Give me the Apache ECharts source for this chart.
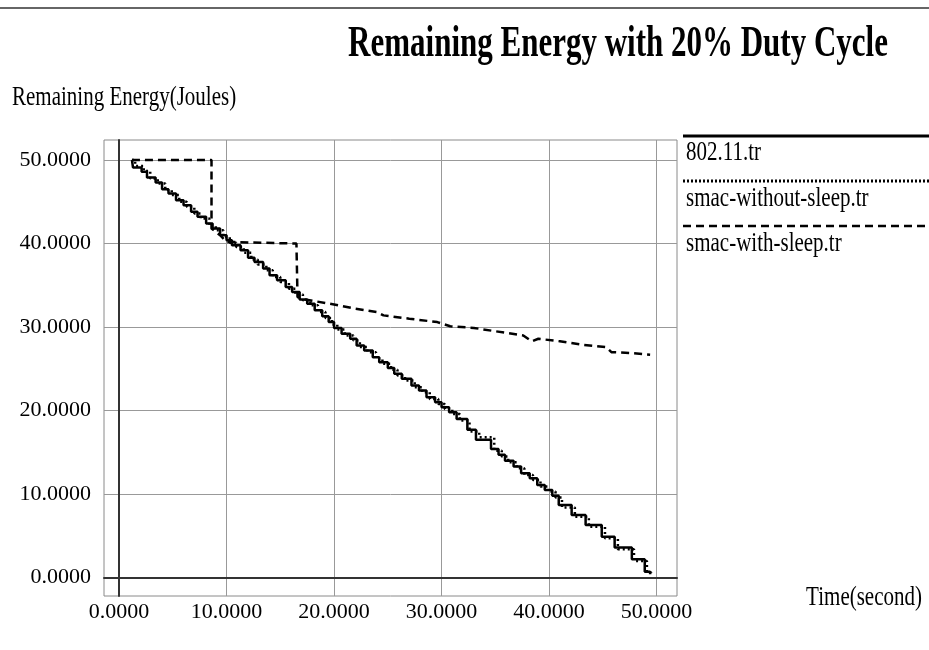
<!DOCTYPE html>
<html>
<head>
<meta charset="utf-8">
<script src="https://cdn.jsdelivr.net/npm/echarts@6/dist/echarts.min.js"></script>
<style>
  html, body { margin: 0; padding: 0; background: #fff; }
  #target { width: 929px; height: 650px; }
</style>
</head>
<body>
<div id="target"></div>
<script>
// tick labels
const xTicks = [0, 10, 20, 30, 40, 50];
const yTicks = [0, 10, 20, 30, 40, 50];

// 802.11.tr : [time, energy] step points
const wifiData = [
  [1.2, 50.0], [1.3, 49.1], [2.1, 48.6], [2.6, 47.9], [3.4, 47.3], [4.0, 46.5],
  [4.6, 46.0], [5.3, 45.2], [6.0, 44.6], [6.7, 43.8], [7.3, 43.2], [8.1, 42.4],
  [8.7, 41.8], [9.4, 41.0], [10.0, 40.4], [10.5, 39.8], [11.3, 39.2], [12.0, 38.3],
  [12.6, 37.8], [13.4, 37.0], [14.0, 36.2], [14.7, 35.6], [15.5, 34.8], [16.1, 34.2],
  [16.8, 33.3], [17.5, 32.8], [18.2, 32.0], [18.9, 31.3], [19.5, 30.6], [20.0, 29.9],
  [20.7, 29.2], [21.5, 28.6], [22.1, 27.8], [22.8, 27.2], [23.6, 26.4], [24.2, 25.8],
  [25.0, 25.1], [25.6, 24.4], [26.3, 23.8], [27.2, 23.0], [27.9, 22.4], [28.6, 21.6],
  [29.4, 21.0], [30.0, 20.4], [30.7, 19.8], [31.4, 19.0], [32.4, 17.7], [33.2, 16.5],
  [34.6, 15.4], [35.3, 14.7], [35.9, 14.0], [36.7, 13.3], [37.4, 12.5], [38.2, 11.9],
  [38.9, 11.1], [39.6, 10.5], [40.3, 9.8], [40.9, 8.7], [42.1, 7.5], [43.4, 6.3],
  [44.9, 4.9], [46.1, 3.6], [47.7, 2.2], [48.9, 0.7], [49.4, 0.4]
];

// smac-without-sleep.tr
const noSleepData = [
  [1.2, 50.0], [1.5, 49.3], [2.3, 48.7], [2.9, 47.8], [3.6, 47.2], [4.3, 46.4],
  [4.9, 45.8], [5.6, 45.0], [6.3, 44.4], [7.0, 43.6], [7.6, 43.0], [8.4, 42.1],
  [9.0, 41.6], [9.7, 40.8], [10.3, 40.1], [10.9, 39.6], [11.6, 38.9], [12.3, 38.1],
  [12.9, 37.5], [13.7, 36.8], [14.3, 36.0], [15.0, 35.4], [15.8, 34.6], [16.4, 33.9],
  [17.1, 33.2], [17.8, 32.6], [18.5, 31.8], [19.2, 31.1], [19.8, 30.3], [20.3, 29.7],
  [21.0, 29.0], [21.8, 28.4], [22.4, 27.6], [23.1, 27.0], [23.9, 26.2], [24.5, 25.6],
  [25.3, 24.9], [25.9, 24.2], [26.6, 23.6], [27.5, 22.8], [28.2, 22.2], [28.9, 21.4],
  [29.7, 20.8], [30.3, 20.2], [31.0, 19.6], [31.7, 18.8], [32.6, 17.5], [33.5, 16.8],
  [34.9, 15.2], [35.6, 14.5], [36.2, 13.8], [37.0, 13.1], [37.7, 12.3], [38.5, 11.7],
  [39.2, 10.9], [39.9, 10.3], [40.6, 9.6], [41.2, 8.4], [42.4, 7.3], [43.7, 6.1],
  [45.2, 4.7], [46.4, 3.4], [47.9, 2.0], [49.1, 0.6], [49.5, 0.3]
];

// smac-with-sleep.tr
const sleepData = [
  [1.2, 50.0], [8.6, 50.0], [8.6, 41.8], [9.4, 41.0], [10.0, 40.2], [16.5, 40.0],
  [16.6, 33.6], [17.3, 33.3], [20.0, 32.7], [22.0, 32.2], [24.0, 31.8], [24.6, 31.4],
  [27.0, 31.0], [29.6, 30.6], [30.8, 30.1], [33.0, 29.9], [35.0, 29.5], [37.6, 29.0],
  [38.4, 28.3], [39.0, 28.6], [41.0, 28.3], [43.0, 27.9], [45.3, 27.6], [45.8, 27.0],
  [47.5, 26.9], [49.4, 26.7]
];

const seriesNames = ["802.11.tr", "smac-without-sleep.tr", "smac-with-sleep.tr"];

const serif = "'Liberation Serif', 'DejaVu Serif', serif";
const mChart = echarts.init(document.getElementById("target"));

const fmt = (v) => v.toFixed(4);

const options = {
  animation: false,
  backgroundColor: "#fff",
  grid: {
    left: 104,
    right: 252,
    top: 140,
    bottom: 54,
    show: true,
    borderColor: "#8a8a8a",
    borderWidth: 1,
  },
  xAxis: {
    type: "value",
    min: -1.4,
    max: 51.9,
    axisLine: { show: true, onZero: true, lineStyle: { color: "#333", width: 2 } },
    axisTick: { show: false, customValues: xTicks },
    axisLabel: {
      customValues: xTicks,
      formatter: fmt,
      margin: 5,
      color: "#000",
      fontFamily: serif,
      fontSize: 22,
    },
    splitLine: { show: true, lineStyle: { color: "#999", width: 1 } },
  },
  yAxis: {
    type: "value",
    min: -2.2,
    max: 52.4,
    axisLine: { show: true, onZero: true, lineStyle: { color: "#333", width: 2 } },
    axisTick: { show: false, customValues: yTicks },
    axisLabel: {
      customValues: yTicks,
      formatter: fmt,
      margin: 13,
      color: "#000",
      fontFamily: serif,
      fontSize: 22,
    },
    splitLine: { show: true, lineStyle: { color: "#999", width: 1 } },
  },
  series: [
    {
      name: seriesNames[0],
      type: "line",
      step: "end",
      data: wifiData,
      symbol: "none",
      lineStyle: { color: "#000", width: 2.5, type: "solid" },
      z: 3,
    },
    {
      name: seriesNames[1],
      type: "line",
      step: "end",
      data: noSleepData,
      symbol: "none",
      lineStyle: { color: "#000", width: 2.5, type: [2, 3] },
      z: 4,
    },
    {
      name: seriesNames[2],
      type: "line",
      data: sleepData,
      symbol: "none",
      lineStyle: { color: "#000", width: 2.5, type: [8, 5] },
      z: 5,
    },
  ],
  graphic: [
    // top rule
    { type: "line", shape: { x1: 0, y1: 8, x2: 929, y2: 8 }, style: { stroke: "#666", lineWidth: 2 } },
    // title
    {
      type: "text", x: 618, y: 45, scaleY: 1.4,
      style: { text: "Remaining Energy with 20% Duty Cycle", fill: "#000", font: "bold 31px " + serif, textAlign: "center", textVerticalAlign: "middle" },
    },
    // axis names
    {
      type: "text", x: 12, y: 98, scaleY: 1.3,
      style: { text: "Remaining Energy(Joules)", fill: "#000", font: "21px " + serif, textAlign: "left", textVerticalAlign: "middle" },
    },
    {
      type: "text", x: 922, y: 598, scaleY: 1.3,
      style: { text: "Time(second)", fill: "#000", font: "21px " + serif, textAlign: "right", textVerticalAlign: "middle" },
    },
    // legend
    { type: "line", shape: { x1: 683, y1: 136, x2: 929, y2: 136 }, style: { stroke: "#000", lineWidth: 3 } },
    {
      type: "text", x: 686, y: 153, scaleY: 1.3,
      style: { text: seriesNames[0], fill: "#000", font: "21px " + serif, textAlign: "left", textVerticalAlign: "middle" },
    },
    { type: "line", shape: { x1: 683, y1: 181, x2: 929, y2: 181 }, style: { stroke: "#000", lineWidth: 3, lineDash: [2, 2] } },
    {
      type: "text", x: 686, y: 199, scaleY: 1.3,
      style: { text: seriesNames[1], fill: "#000", font: "21px " + serif, textAlign: "left", textVerticalAlign: "middle" },
    },
    { type: "line", shape: { x1: 683, y1: 226, x2: 929, y2: 226 }, style: { stroke: "#000", lineWidth: 2.5, lineDash: [8, 5] } },
    {
      type: "text", x: 686, y: 244, scaleY: 1.3,
      style: { text: seriesNames[2], fill: "#000", font: "21px " + serif, textAlign: "left", textVerticalAlign: "middle" },
    },
  ],
};

mChart.setOption(options);
</script>
</body>
</html>
